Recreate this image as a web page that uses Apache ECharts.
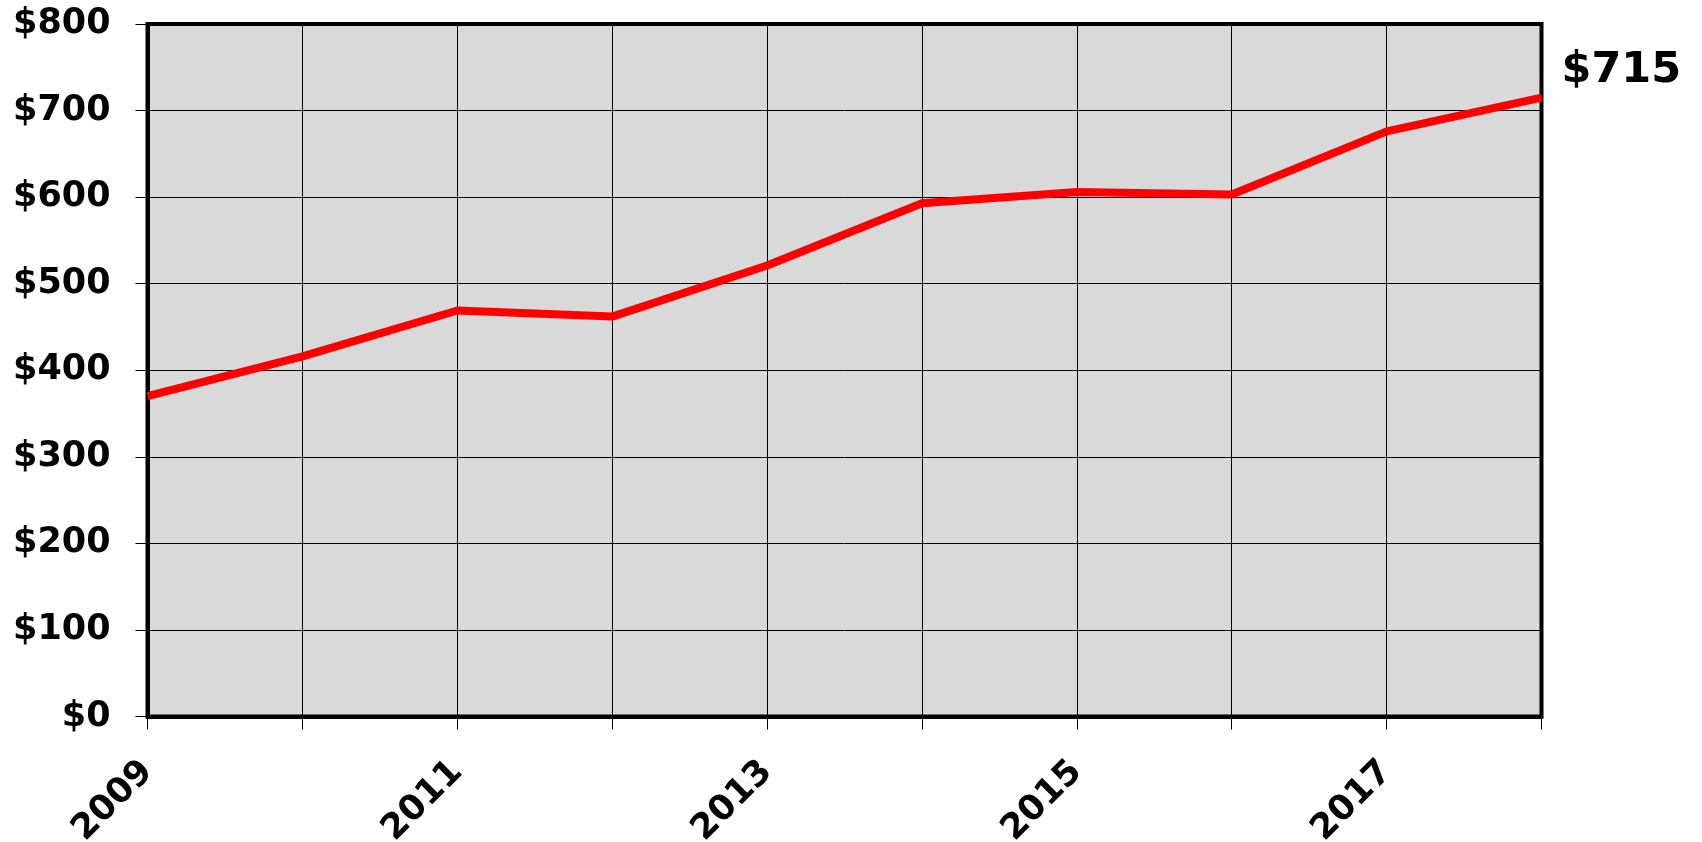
<!DOCTYPE html>
<html>
<head>
<meta charset="utf-8">
<title>Price trend 2009–2018</title>
<script src="https://cdn.jsdelivr.net/npm/echarts@6/dist/echarts.min.js"></script>
<style>
  html, body { margin: 0; padding: 0; background: #ffffff; }
  #chart { width: 1702px; height: 842px; }
</style>
</head>
<body>
<div id="chart"></div>
<script>
// Years on the category axis
const years = ['2009', '2010', '2011', '2012', '2013', '2014', '2015', '2016', '2017', '2018'];
// Annual values in dollars
const prices = [370, 416, 469, 462, 521, 593, 606, 603, 676, 715];
// Value axis range
const yMin = 0;
const yMax = 800;
const yStep = 100;

const FONT = 'DejaVu Sans';

const chart = echarts.init(document.getElementById('chart'), null, { renderer: 'canvas' });

chart.setOption({
  animation: false,
  backgroundColor: '#ffffff',
  grid: {
    left: 147.5,
    right: 160.5,
    top: 24,
    bottom: 125.5,
    containLabel: false,
    outerBoundsMode: 'none',
    show: true,
    backgroundColor: '#d9d9d9',
    borderColor: '#000000',
    borderWidth: 4
  },
  xAxis: {
    type: 'category',
    data: years,
    boundaryGap: false,
    axisLine: { show: true, lineStyle: { color: '#000000', width: 4 } },
    axisTick: { show: true, interval: 0, length: 13, lineStyle: { color: '#000000', width: 1 } },
    splitLine: { show: true, interval: 0, lineStyle: { color: '#000000', width: 1 } },
    axisLabel: {
      interval: 1,
      rotate: 45,
      margin: 50,
      color: '#000000',
      fontFamily: FONT,
      fontWeight: 'bold',
      fontSize: 35
    }
  },
  yAxis: {
    type: 'value',
    min: yMin,
    max: yMax,
    interval: yStep,
    axisLine: { show: true, lineStyle: { color: '#000000', width: 4 } },
    axisTick: { show: true, length: 12, lineStyle: { color: '#000000', width: 1 } },
    splitLine: { show: true, lineStyle: { color: '#000000', width: 1 } },
    axisLabel: {
      margin: 37,
      color: '#000000',
      fontFamily: FONT,
      fontWeight: 'bold',
      fontSize: 35,
      formatter: v => '$' + v
    }
  },
  series: [{
    type: 'line',
    data: prices,
    symbol: 'none',
    lineStyle: { color: '#ff0000', width: 8 },
    endLabel: {
      show: true,
      formatter: p => '$' + p.value,
      color: '#000000',
      fontFamily: FONT,
      fontWeight: 'bold',
      fontSize: 43,
      distance: 5,
      offset: [15, -27]
    }
  }]
});
</script>
</body>
</html>
